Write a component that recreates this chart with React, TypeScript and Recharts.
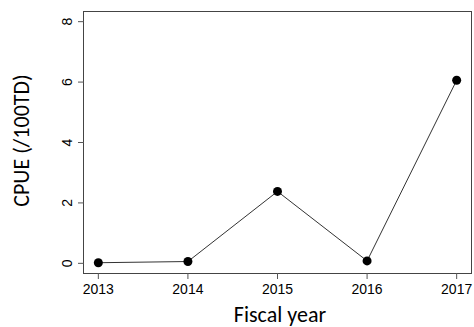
import { LineChart, Line, XAxis, YAxis, Label } from "recharts";

// CPUE per fiscal year
const years = [2013, 2014, 2015, 2016, 2017];
const cpue = [0.02, 0.06, 2.38, 0.08, 6.06];
const yTicks = [0, 2, 4, 6, 8];

const data = years.map((year, i) => ({ year, cpue: cpue[i] }));

// base-graphics style 4% padding on both ends
const xDomain: [number, number] = [2012.84, 2017.16];
const yDomain: [number, number] = [-0.32, 8.32];

const W = 474;
const H = 327;
const margin = { top: 12, right: 3, left: 0, bottom: 0 };
const yAxisWidth = 84;
const xAxisHeight = 54;

const tickFont = "'Liberation Sans', Arial, sans-serif";
const titleFont = "Carlito, Lato, 'Open Sans', sans-serif";

function RotatedTick(props: any) {
  const { x, y, payload } = props;
  return (
    <text
      x={x}
      y={y}
      transform={`rotate(-90, ${x}, ${y})`}
      textAnchor="middle"
      fontFamily={tickFont}
      fontSize={14}
      fill="#000"
    >
      {payload.value}
    </text>
  );
}

export default function App() {
  // frame around the plotting region, sized from the chart margins and axis sizes
  const frame = {
    position: "absolute" as const,
    left: margin.left + yAxisWidth - 1,
    top: margin.top - 1,
    width: W - margin.left - margin.right - yAxisWidth,
    height: H - margin.top - margin.bottom - xAxisHeight,
    border: "1px solid #444",
    pointerEvents: "none" as const,
  };
  return (
    <div style={{ position: "absolute", left: 0, top: 0, width: W, height: H, background: "#fff" }}>
      <div style={frame} />
      <LineChart width={W} height={H} data={data} margin={margin}>
        <XAxis
          type="number"
          dataKey="year"
          domain={xDomain}
          ticks={years}
          height={xAxisHeight}
          axisLine={false}
          tickSize={6}
          tickMargin={5}
          tickLine={{ stroke: "#555" }}
          tick={{ fontFamily: tickFont, fontSize: 14, fill: "#000" }}
        >
          <Label
            content={() => (
              <text x={280} y={322} textAnchor="middle" fontFamily={titleFont} fontSize={22} fill="#000">
                Fiscal year
              </text>
            )}
          />
        </XAxis>
        <YAxis
          type="number"
          domain={yDomain}
          ticks={yTicks}
          width={yAxisWidth}
          axisLine={false}
          tickSize={6}
          tickMargin={6}
          tickLine={{ stroke: "#555" }}
          tick={<RotatedTick />}
        >
          <Label
            content={() => (
              <text
                x={28.5}
                y={140.5}
                transform="rotate(-90, 28.5, 140.5)"
                textAnchor="middle"
                fontFamily={titleFont}
                fontSize={22}
                fill="#000"
              >
                CPUE (/100TD)
              </text>
            )}
          />
        </YAxis>
        <Line
          type="linear"
          dataKey="cpue"
          stroke="#333"
          strokeWidth={1}
          dot={{ r: 4.5, fill: "#000", stroke: "none" }}
          activeDot={false}
          isAnimationActive={false}
        />
      </LineChart>
    </div>
  );
}
